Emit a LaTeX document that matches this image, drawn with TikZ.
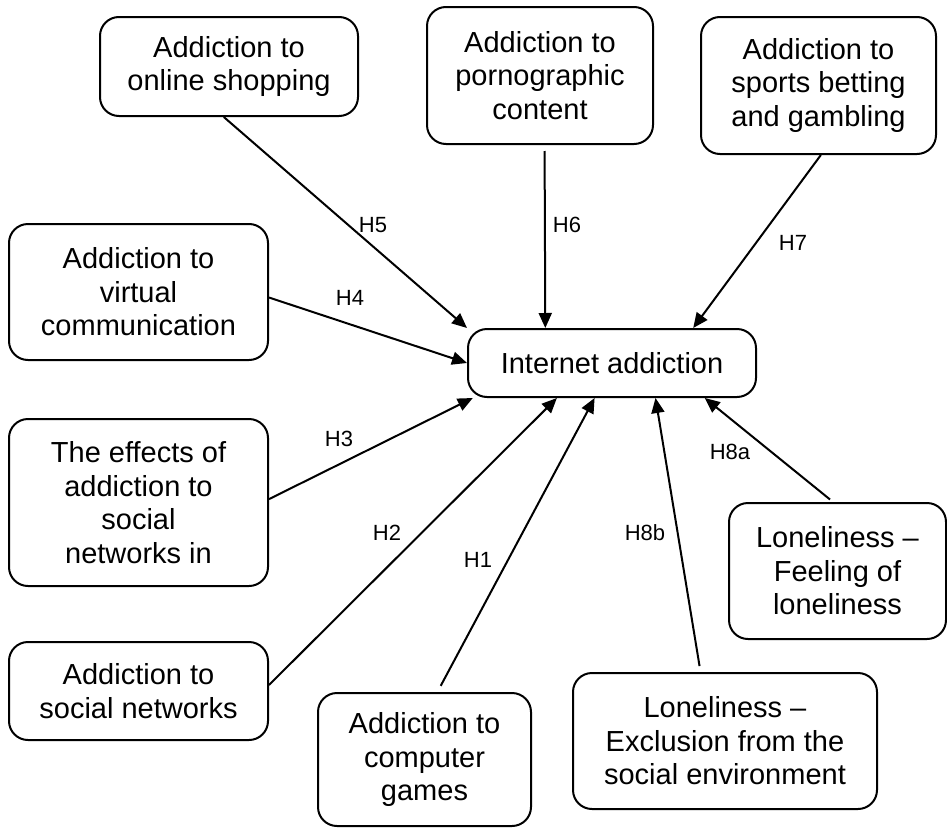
\documentclass[tikz,border=0pt]{standalone}
\usepackage{fontspec}
\setmainfont{Liberation Sans}
\usetikzlibrary{calc,arrows.meta}
\begin{document}
\begin{tikzpicture}[x=1pt,y=-1pt,
  box/.style={draw, line width=2pt, rounded corners=19pt, align=center,
    font=\fontsize{29}{33.5}\selectfont, inner sep=0pt},
  arr/.style={line width=2pt, -{Triangle[length=15pt,width=13pt]}},
  lab/.style={font=\fontsize{22}{24}\selectfont, inner sep=0pt}]
\useasboundingbox (0,0) rectangle (947,827);
\node[box, minimum width=258pt, minimum height=99pt] (shop) at (229,66.5) {Addiction to\\online shopping};
\node[box, minimum width=226pt, minimum height=137pt] (porn) at (540,75.5) {Addiction to\\pornographic\\content};
\node[box, minimum width=235pt, minimum height=137pt] (sport) at (818.5,85.5) {Addiction to\\sports betting\\and gambling};
\node[box, minimum width=259pt, minimum height=136pt] (virt) at (138.5,292) {Addiction to\\virtual\\communication};
\node[box, minimum width=288pt, minimum height=68pt] (ia) at (612,363) {Internet addiction};
\node[box, minimum width=259pt, minimum height=167pt] (eff) at (138.5,502.5) {The effects of\\addiction to\\social\\networks in};
\node[box, minimum width=259pt, minimum height=98pt] (soc) at (138.5,691) {Addiction to\\social networks};
\node[box, minimum width=213pt, minimum height=133pt] (games) at (424.5,759.5) {Addiction to\\computer\\games};
\node[box, minimum width=304pt, minimum height=136pt] (excl) at (725,741) {Loneliness --\\Exclusion from the\\social environment};
\node[box, minimum width=217pt, minimum height=136pt] (feel) at (837.5,571) {Loneliness --\\Feeling of\\loneliness};

\draw[arr] ($(shop.south west)!0.48!(shop.south east)$) -- (ia.north west);
\draw[arr, shorten <=6pt] ($(porn.south west)!0.52!(porn.south east)$) -- ($(ia.north west)!0.27!(ia.north east)$);
\draw[arr] ($(sport.south west)!0.51!(sport.south east)$) -- ($(ia.north west)!0.78!(ia.north east)$);
\draw[arr] ($(virt.north east)!0.54!(virt.south east)$) -- (ia.west);
\draw[arr] ($(eff.north east)!0.48!(eff.south east)$) -- ($(ia.south west)!0.02!(ia.south east)$);
\draw[arr] ($(soc.north east)!0.44!(soc.south east)$) -- ($(ia.south west)!0.31!(ia.south east)$);
\draw[arr, shorten <=7pt] ($(games.north west)!0.56!(games.north east)$) -- ($(ia.south west)!0.44!(ia.south east)$);
\draw[arr, shorten <=6pt] ($(excl.north west)!0.42!(excl.north east)$) -- ($(ia.south west)!0.65!(ia.south east)$);
\draw[arr, shorten <=4pt] ($(feel.north west)!0.48!(feel.north east)$) -- ($(ia.south west)!0.82!(ia.south east)$);

\node[lab] (l5) at (373,225) {H5};
\node[lab] (l4) at (350,298) {H4};
\node[lab] (l6) at (567,225) {H6};
\node[lab] (l7) at (793,243) {H7};
\node[lab] (l3) at (339,439) {H3};
\node[lab] (l2) at (387,533) {H2};
\node[lab] (l1) at (478,560) {H1};
\node[lab] (l8b) at (645,533) {H8b};
\node[lab] (l8a) at (730,452) {H8a};
\end{tikzpicture}
\end{document}
